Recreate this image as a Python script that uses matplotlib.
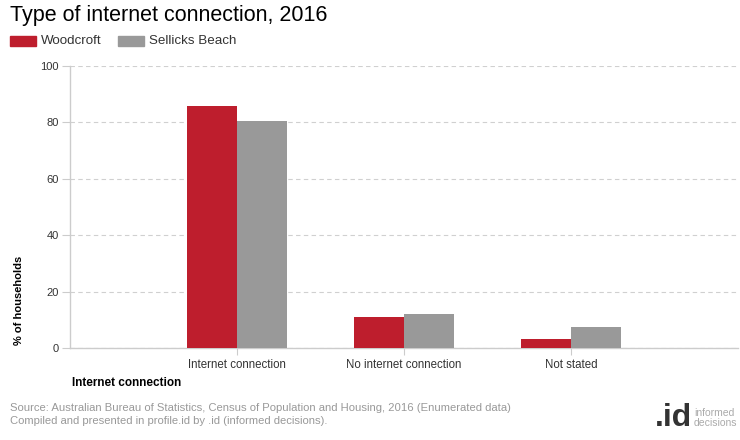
"""Type of internet connection, 2016 - Woodcroft vs Sellicks Beach."""

import numpy as np
from matplotlib import pyplot as plt
from matplotlib.patches import Rectangle

plt.switch_backend("Agg")
plt.rcParams["font.family"] = ["Liberation Sans", "DejaVu Sans"]

categories = ["Internet connection", "No internet connection", "Not stated"]
woodcroft = [85.8, 11.0, 3.2]
sellicks_beach = [80.5, 12.1, 7.4]
y_ticks = [0, 20, 40, 60, 80, 100]

RED = "#be1e2d"
GREY = "#999999"
TEXT = "#333333"
W, H, DPI = 740, 440, 100

fig = plt.figure(figsize=(W / DPI, H / DPI), dpi=DPI)
ax = fig.add_axes([70 / W, (H - 348) / H, 668 / W, 282 / H])

x = np.arange(len(categories))
bw = 0.3
ax.bar(x - bw / 2, woodcroft, bw, color=RED, zorder=3)
ax.bar(x + bw / 2, sellicks_beach, bw, color=GREY, zorder=3)

ax.set_xlim(-1, 3)
ax.set_ylim(0, 100)
ax.set_yticks(y_ticks)
ax.set_xticks(x)
ax.set_xticklabels(categories)
ax.grid(axis="y", color="#d0d0d0", linestyle=(0, (4, 3)), linewidth=0.8, zorder=0)

for side in ("top", "right"):
    ax.spines[side].set_visible(False)
for side in ("left", "bottom"):
    ax.spines[side].set_color("#cccccc")
    ax.spines[side].set_linewidth(1.0)
ax.tick_params(axis="y", length=6, color="#cccccc", labelsize=8, labelcolor=TEXT, pad=2)
ax.tick_params(axis="x", length=5, color="#cccccc", labelsize=8.3, labelcolor=TEXT, pad=3)

ax.set_ylabel("% of households", fontsize=8, fontweight="bold", color="black")
ax.yaxis.set_label_coords(-46 / 668, 0.17)

# title and legend
fig.text(10 / W, 1 - 15 / H, "Type of internet connection, 2016", fontsize=15.5,
         color="black", va="center", ha="left")
for px, label, col in [(10, "Woodcroft", RED), (118, "Sellicks Beach", GREY)]:
    fig.patches.append(Rectangle((px / W, 1 - 46 / H), 26 / W, 10 / H,
                                 transform=fig.transFigure, color=col))
    fig.text((px + 31) / W, 1 - 41 / H, label, fontsize=9.6, color=TEXT,
             va="center", ha="left")

fig.text(72 / W, 1 - 383 / H, "Internet connection", fontsize=8.5,
         fontweight="bold", color="black", va="center", ha="left")

fig.text(10 / W, 1 - 408 / H,
         "Source: Australian Bureau of Statistics, Census of Population and Housing, 2016 (Enumerated data)",
         fontsize=8.1, color="#999999", va="center", ha="left")
fig.text(10 / W, 1 - 421 / H,
         "Compiled and presented in profile.id by .id (informed decisions).",
         fontsize=8.1, color="#999999", va="center", ha="left")

# logo
fig.text(692 / W, 1 - 418 / H, ".id", fontsize=23, fontweight="bold",
         color="#333333", va="center", ha="right")
fig.text(694 / W, 1 - 418 / H, "informed\ndecisions", fontsize=7.5,
         color="#aaaaaa", va="center", ha="left", linespacing=0.9)

fig.savefig("out.png", dpi=DPI)
plt.close(fig)
